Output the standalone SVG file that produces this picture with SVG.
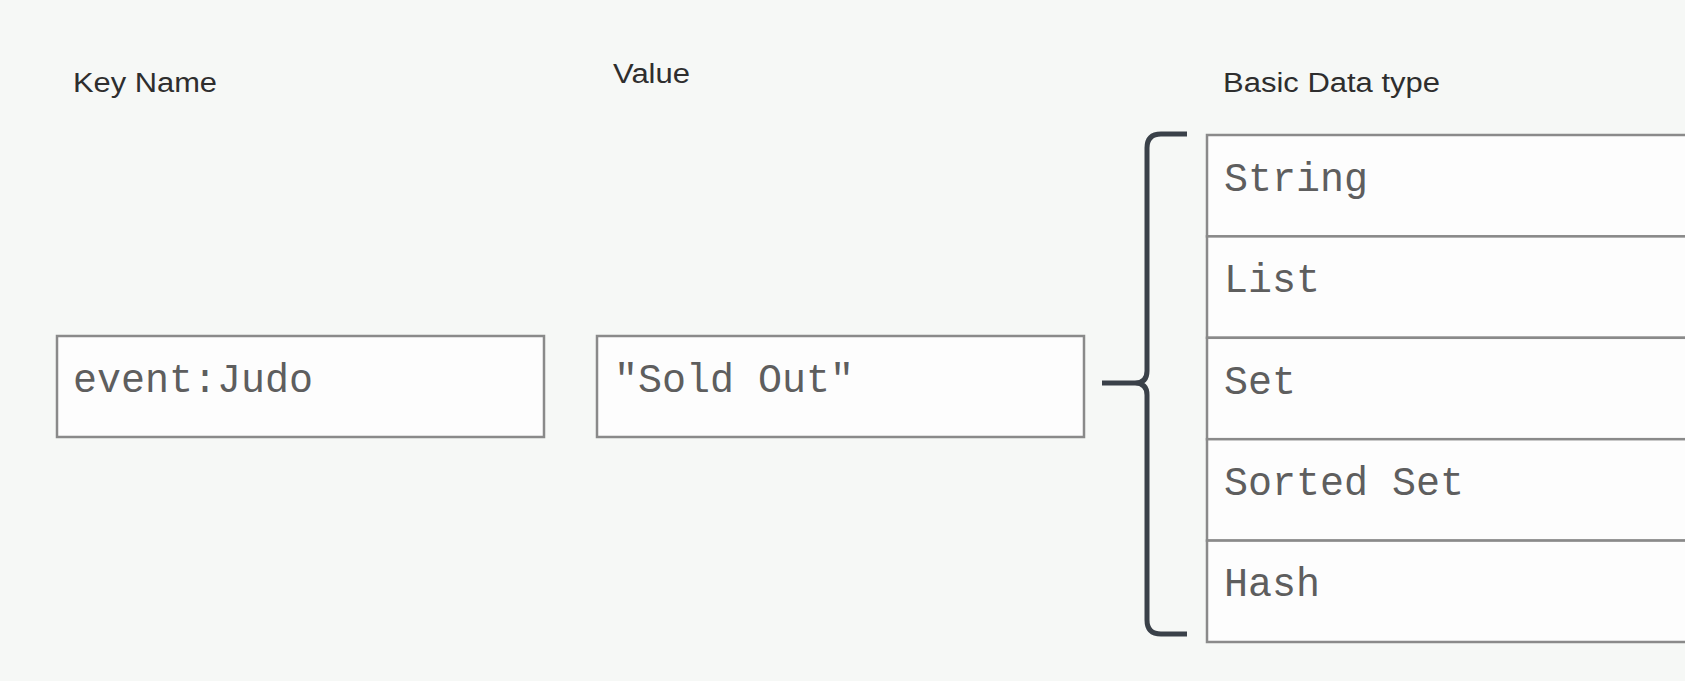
<svg xmlns="http://www.w3.org/2000/svg" width="1685" height="681" viewBox="0 0 1685 681">
  <style>
    .hdr { font-family: "Liberation Sans", Arial, sans-serif; font-size: 27px; fill: #2e2e2e; }
    .box { fill: #fdfdfd; stroke: #8a8a8a; stroke-width: 2.5; }
    .mono { font-family: "Liberation Mono", "Courier New", monospace; font-size: 40px; fill: #5e5e5e; }
    .brace { fill: none; stroke: #3a4149; stroke-width: 5; stroke-linecap: butt; stroke-linejoin: round; }
  </style>
  <rect x="0" y="0" width="1685" height="681" fill="#f6f8f6"/>

  <g id="headers">
    <text class="hdr" x="73" y="92" textLength="144" lengthAdjust="spacingAndGlyphs">Key Name</text>
    <text class="hdr" x="613" y="83" textLength="77" lengthAdjust="spacingAndGlyphs">Value</text>
    <text class="hdr" x="1223" y="92" textLength="217" lengthAdjust="spacingAndGlyphs">Basic Data type</text>
  </g>

  <g id="key-node">
    <rect class="box" x="57" y="336" width="487" height="101"/>
    <text class="mono" x="73" y="392">event:Judo</text>
  </g>

  <g id="value-node">
    <rect class="box" x="597" y="336" width="487" height="101"/>
    <text class="mono" x="614" y="392">&quot;Sold Out&quot;</text>
  </g>

  <g id="connectors">
    <path class="brace" d="M1187,134 H1161 Q1147,134 1147,148 V371 Q1147,383 1135,383 H1102 M1135,383 Q1147,383 1147,395 V620 Q1147,634 1161,634 H1187"/>
  </g>

  <g id="type-string">
    <rect class="box" x="1207" y="135" width="500" height="101.4"/>
    <text class="mono" x="1224" y="191">String</text>
  </g>
  <g id="type-list">
    <rect class="box" x="1207" y="236.4" width="500" height="101.4"/>
    <text class="mono" x="1224" y="292">List</text>
  </g>
  <g id="type-set">
    <rect class="box" x="1207" y="337.8" width="500" height="101.4"/>
    <text class="mono" x="1224" y="394">Set</text>
  </g>
  <g id="type-sorted-set">
    <rect class="box" x="1207" y="439.2" width="500" height="101.4"/>
    <text class="mono" x="1224" y="495">Sorted Set</text>
  </g>
  <g id="type-hash">
    <rect class="box" x="1207" y="540.6" width="500" height="101.4"/>
    <text class="mono" x="1224" y="596">Hash</text>
  </g>
</svg>
